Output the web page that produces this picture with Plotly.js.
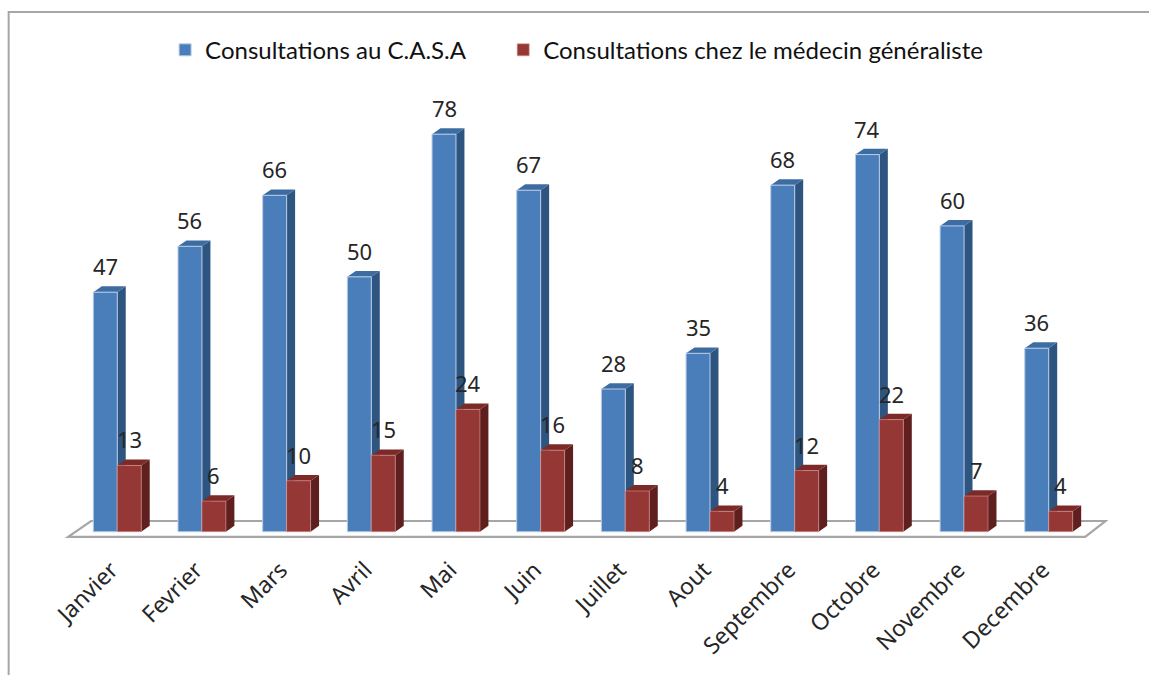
<!DOCTYPE html>
<html>
<head>
<meta charset="utf-8">
<script src="https://cdn.plot.ly/plotly-3.0.1.min.js"></script>
<style>html,body{margin:0;padding:0;background:#fff;}#chart{width:1149px;height:675px;}</style>
</head>
<body>
<div id="chart"></div>
<script>
// ---- data ----
const months = ["Janvier","Fevrier","Mars","Avril","Mai","Juin","Juillet","Aout","Septembre","Octobre","Novembre","Decembre"];
const casaName = "Consultations au C.A.S.A";
const casaValues = [47,56,66,50,78,67,28,35,68,74,60,36];
const medName = "Consultations chez le médecin généraliste";
const medValues = [13,6,10,15,24,16,8,4,12,22,7,4];

// ---- style ----
const W = 0.283;     // bar width (axis units)
const DX = 0.1;      // 3D depth, x
const DY = 1.15;     // 3D depth, y
const blue = {front:"#4a7ebb", side:"#2e5480", top:"#3d6ca3", line:"#b9cde5"};
const red  = {front:"#953735", side:"#5e1f1e", top:"#7b2a28", line:"#d99694"};

const pos = months.map((m,i)=>i);

const traces = [
  {type:"bar", name:casaName, x:pos, y:casaValues, offset:-W, width:W, legend:"legend",
   marker:{color:blue.front, line:{color:blue.line, width:1}}, hoverinfo:"y"},
  {type:"bar", name:medName, x:pos, y:medValues, offset:0, width:W, legend:"legend2",
   marker:{color:red.front, line:{color:red.line, width:0.6}}, hoverinfo:"y"}
];

const shapes = [];
// frame
shapes.push({type:"rect", xref:"paper", yref:"paper", x0:-0.047, x1:1.2, y0:-0.3, y1:1.1285,
  line:{color:"#a6a6a6", width:2}, fillcolor:"rgba(0,0,0,0)", layer:"below"});
// floor
shapes.push({type:"path", xref:"x", yref:"y", layer:"below",
  path:"M -0.58,-1.0 L 11.43,-1.0 L 11.67,2.1 L -0.31,2.1 Z",
  line:{color:"#a6a6a6", width:2.2}, fillcolor:"#ffffff"});

function addBox(values, off, col){
  values.forEach((v,i)=>{
    const xl = pos[i]+off, xr = xl+W;
    shapes.push({type:"path", xref:"x", yref:"y", layer:"below",
      path:`M ${xr},0 L ${xr},${v} L ${xr+DX},${v+DY} L ${xr+DX},${DY} Z`,
      fillcolor:col.side, line:{width:0}});
    shapes.push({type:"path", xref:"x", yref:"y", layer:"below",
      path:`M ${xl},${v} L ${xr},${v} L ${xr+DX},${v+DY} L ${xl+DX},${v+DY} Z`,
      fillcolor:col.top, line:{width:0}});
  });
}
addBox(casaValues, -W, blue);
addBox(medValues, 0, red);

const annotations = [];
function addLabels(values, off){
  values.forEach((v,i)=>{
    annotations.push({x:pos[i]+off+W/2, y:v, xref:"x", yref:"y", text:String(v),
      showarrow:false, yanchor:"middle", yshift:26,
      font:{family:"Noto Sans, Open Sans, sans-serif", size:22, color:"#262626"}});
  });
}
addLabels(casaValues, -W);
addLabels(medValues, 0);

const legendFont = {family:"Lato, sans-serif", size:24, color:"#111111"};

const layout = {
  width:1149, height:675,
  margin:{l:58, r:41, t:73, b:127.7},
  paper_bgcolor:"#ffffff", plot_bgcolor:"rgba(0,0,0,0)",
  showlegend:true,
  legend:{orientation:"h", x:0.102, xanchor:"left", y:1.048, yanchor:"middle",
    font:legendFont, itemwidth:30},
  legend2:{orientation:"h", x:0.424, xanchor:"left", y:1.048, yanchor:"middle",
    font:legendFont, itemwidth:30},
  xaxis:{range:[-0.7,11.7], tickmode:"array", tickvals:pos, ticktext:months, tickangle:-45,
    showgrid:false, zeroline:false, showline:false, ticks:"",
    ticklabelshift:-6, ticklabelstandoff:4,
    tickfont:{family:"Noto Sans, Open Sans, sans-serif", size:23, color:"#262626"}},
  yaxis:{range:[-3,90], visible:false, showgrid:false, zeroline:false},
  shapes:shapes, annotations:annotations, bargap:0
};

Plotly.newPlot("chart", traces, layout, {displayModeBar:false, staticPlot:true});
</script>
</body>
</html>
